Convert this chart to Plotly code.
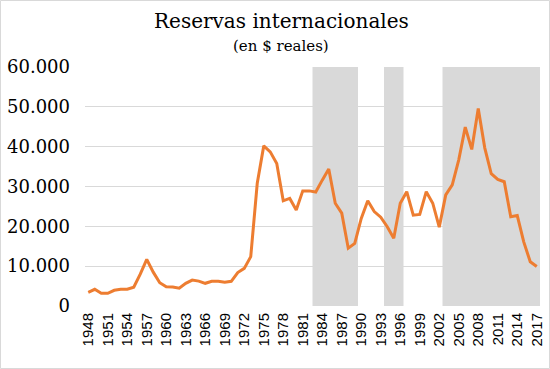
import plotly.graph_objects as go

years = list(range(1948, 2018))
reserves = [
    3450, 4190, 3200, 3200, 3950, 4200, 4200, 4700, 8000, 11700,
    8500, 5850, 4850, 4770, 4450, 5700, 6500, 6250, 5700, 6200,
    6200, 5950, 6200, 8400, 9450, 12400, 30800, 40200, 38700, 35800,
    26400, 27000, 24100, 28900, 28900, 28600, 31600, 34400, 25800, 23300,
    14500, 15700, 22000, 26400, 23700, 22300, 19900, 17000, 25800, 28700,
    22800, 23000, 28700, 25800, 19800, 27900, 30400, 36700, 44900, 39300,
    49600, 39700, 33200, 31800, 31200, 22400, 22700, 16100, 11100, 9900,
]
shade_start = [1983, 1994, 2003]
shade_end = [1989, 1996, 2017]
y_ticks = [0, 10000, 20000, 30000, 40000, 50000, 60000]
x_ticks = list(range(1948, 2018, 3))

W, H = 550, 369
ml, mr, mt, mb = 85, 10, 67, 63
pw, ph = W - ml - mr, H - mt - mb

fig = go.Figure()
fig.add_trace(go.Scatter(
    x=years, y=reserves, mode="lines",
    line=dict(color="#ED7D31", width=3), hoverinfo="skip",
))

for s, e in zip(shade_start, shade_end):
    fig.add_shape(type="rect", xref="x", yref="y", x0=s - 0.5, x1=e + 0.5,
                  y0=0, y1=60000, fillcolor="#D9D9D9", line=dict(width=0),
                  layer="below")

# outer chart border
fig.add_shape(type="rect", xref="paper", yref="paper",
              x0=(0.5 - ml) / pw, x1=(W - 0.5 - ml) / pw,
              y0=-(mb - 0.5) / ph, y1=1 + (mt - 0.5) / ph,
              line=dict(color="#D9D9D9", width=1), fillcolor="rgba(0,0,0,0)")

cx = (281 - ml) / pw
fig.add_annotation(text="Reservas internacionales", xref="paper", yref="paper",
                   x=cx, y=(H - mb - 21) / ph, showarrow=False,
                   font=dict(family="DejaVu Serif", size=20, color="#000000"),
                   xanchor="center", yanchor="middle")
fig.add_annotation(text="(en $ reales)", xref="paper", yref="paper",
                   x=cx, y=(H - mb - 46) / ph, showarrow=False,
                   font=dict(family="DejaVu Serif", size=15, color="#000000"),
                   xanchor="center", yanchor="middle")

fig.update_layout(
    width=W, height=H,
    margin=dict(l=ml, r=mr, t=mt, b=mb, autoexpand=False),
    paper_bgcolor="white", plot_bgcolor="white",
    showlegend=False,
    separators=",.",
    xaxis=dict(
        range=[1947.5, 2017.5], tickvals=x_ticks, tickangle=-90,
        showgrid=False, zeroline=False, showline=False, ticks="",
        ticklabelstandoff=3,
        tickfont=dict(family="Liberation Sans", size=15, color="#000000"),
        fixedrange=True,
    ),
    yaxis=dict(
        range=[0, 60000], tickvals=y_ticks, tickformat=",d",
        showgrid=True, gridcolor="#D9D9D9", gridwidth=1,
        zeroline=False, showline=False, ticks="",
        ticklabelstandoff=14,
        tickfont=dict(family="DejaVu Serif", size=18, color="#000000"),
        fixedrange=True,
    ),
)

fig.write_html("out.html", config={"displayModeBar": False},
               post_script="document.body.style.margin='0px';document.body.style.overflow='hidden';")
